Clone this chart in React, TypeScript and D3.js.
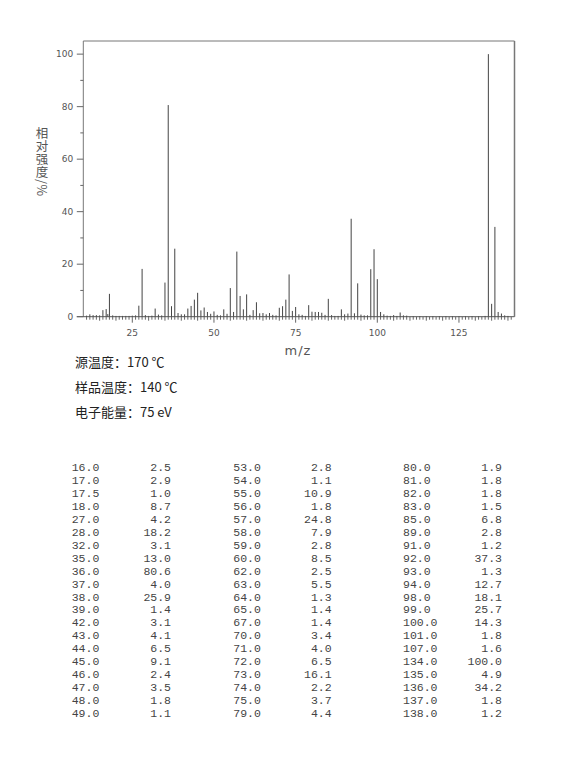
import React from "react";
import * as d3 from "d3";

// spectrum peaks (m/z, relative intensity %)
const peakMz: number[] = [
  11, 12, 13, 14, 15, 16, 17, 17.5, 18, 19, 20, 21, 22, 23, 24, 25, 26, 27, 28, 29, 30,
  31, 32, 33, 34, 35, 36, 37, 38, 39, 40, 41, 42, 43, 44, 45, 46, 47, 48, 49, 50,
  51, 52, 53, 54, 55, 56, 57, 58, 59, 60, 61, 62, 63, 64, 65, 66, 67, 68, 69, 70,
  71, 72, 73, 74, 75, 76, 77, 78, 79, 80, 81, 82, 83, 84, 85, 86, 87, 88, 89, 90,
  91, 92, 93, 94, 95, 96, 97, 98, 99, 100, 101, 102, 103, 104, 105, 106, 107, 108, 109,
  111, 113, 115, 117, 119, 121, 123, 125, 127, 129, 131, 133,
  134, 135, 136, 137, 138, 139, 140,
];
const peakInt: number[] = [
  0.4, 0.9, 0.6, 0.6, 0.5, 2.5, 2.9, 1.0, 8.7, 0.5, 0.3, 0.3, 0.3, 0.3, 0.3, 0.4, 0.5, 4.2, 18.2, 0.6, 0.3,
  0.4, 3.1, 0.8, 0.5, 13.0, 80.6, 4.0, 25.9, 1.4, 0.9, 0.9, 3.1, 4.1, 6.5, 9.1, 2.4, 3.5, 1.8, 1.1, 2.0,
  0.7, 0.5, 2.8, 1.1, 10.9, 1.8, 24.8, 7.9, 2.8, 8.5, 0.7, 2.5, 5.5, 1.3, 1.4, 0.9, 1.4, 0.7, 0.5, 3.4,
  4.0, 6.5, 16.1, 2.2, 3.7, 0.9, 0.7, 0.3, 4.4, 1.9, 1.8, 1.8, 1.5, 0.7, 6.8, 0.6, 0.3, 0.3, 2.8, 0.9,
  1.2, 37.3, 1.3, 12.7, 0.8, 0.5, 0.5, 18.1, 25.7, 14.3, 1.8, 0.9, 0.4, 0.3, 0.6, 0.3, 1.6, 0.5, 0.4,
  0.2, 0.2, 0.2, 0.2, 0.2, 0.2, 0.2, 0.2, 0.2, 0.2, 0.2, 0.3,
  100.0, 4.9, 34.2, 1.8, 1.2, 0.5, 0.3,
];

const xTickLabels: number[] = [25, 50, 75, 100, 125];
const yTickLabels: number[] = [0, 20, 40, 60, 80, 100];
const yMinorTicks: number[] = [10, 30, 50, 70, 90];

const infoLines: string[] = ["源温度：170 ℃", "样品温度：140 ℃", "电子能量：75 eV"];
const yTitle = "相对强度/%";

// table columns
const tableMz1: string[] = ["16.0","17.0","17.5","18.0","27.0","28.0","32.0","35.0","36.0","37.0","38.0","39.0","42.0","43.0","44.0","45.0","46.0","47.0","48.0","49.0"];
const tableInt1: string[] = ["2.5","2.9","1.0","8.7","4.2","18.2","3.1","13.0","80.6","4.0","25.9","1.4","3.1","4.1","6.5","9.1","2.4","3.5","1.8","1.1"];
const tableMz2: string[] = ["53.0","54.0","55.0","56.0","57.0","58.0","59.0","60.0","62.0","63.0","64.0","65.0","67.0","70.0","71.0","72.0","73.0","74.0","75.0","79.0"];
const tableInt2: string[] = ["2.8","1.1","10.9","1.8","24.8","7.9","2.8","8.5","2.5","5.5","1.3","1.4","1.4","3.4","4.0","6.5","16.1","2.2","3.7","4.4"];
const tableMz3: string[] = ["80.0","81.0","82.0","83.0","85.0","89.0","91.0","92.0","93.0","94.0","98.0","99.0","100.0","101.0","107.0","134.0","135.0","136.0","137.0","138.0"];
const tableInt3: string[] = ["1.9","1.8","1.8","1.5","6.8","2.8","1.2","37.3","1.3","12.7","18.1","25.7","14.3","1.8","1.6","100.0","4.9","34.2","1.8","1.2"];

export default function App() {
  const W = 570, H = 773;
  const left = 83.3, right = 514.5, top = 41, bottom = 316.7;
  const x = d3.scaleLinear().domain([10, 142]).range([left, right]);
  const y = d3.scaleLinear().domain([0, 105]).range([bottom, top]);
  const minorX = d3.range(11, 142, 1);
  const axisColor = "#777";
  const textColor = "#555";
  const peaks = peakMz.map((m, i) => ({ m, v: peakInt[i] }));

  const rowY = (i: number) => 471 + i * 12.95;
  const tableFont = "'Liberation Mono', 'Courier New', monospace";
  const cols = [
    { mz: tableMz1, it: tableInt1, xl: 71.7, xr: 171 },
    { mz: tableMz2, it: tableInt2, xl: 233.3, xr: 331.7 },
    { mz: tableMz3, it: tableInt3, xl: 403, xr: 502 },
  ];

  return (
    <div style={{ position: "absolute", left: 0, top: 0 }}>
      <svg width={W} height={H} style={{ display: "block", background: "#fff" }}>
        {/* frame */}
        <line x1={left} y1={top} x2={right} y2={top} stroke={axisColor} strokeWidth={1} />
        <line x1={left} y1={top} x2={left} y2={bottom} stroke={axisColor} strokeWidth={1} />
        <line x1={right} y1={top} x2={right} y2={bottom} stroke={axisColor} strokeWidth={1.5} />
        <line x1={left - 6.5} y1={bottom} x2={right} y2={bottom} stroke="#555" strokeWidth={1} />

        {/* x ticks */}
        {minorX.map((v) => {
          const len = v % 25 === 0 ? 6 : v % 5 === 0 ? 4 : 3;
          return (
            <line key={"xt" + v} x1={x(v)} x2={x(v)} y1={bottom} y2={bottom + len} stroke="#666" strokeWidth={1} />
          );
        })}
        {xTickLabels.map((v) => (
          <text key={"xl" + v} x={x(v)} y={335.7} textAnchor="middle" fontFamily="'DejaVu Sans', Verdana, sans-serif" fontSize={9} fill={textColor}>
            {v}
          </text>
        ))}

        {/* y ticks */}
        {yTickLabels.map((v) => (
          <g key={"yt" + v}>
            <line x1={left - 6.5} x2={left} y1={y(v)} y2={y(v)} stroke="#666" strokeWidth={1} />
            <text x={73.3} y={y(v) + 3.3} textAnchor="end" fontFamily="'DejaVu Sans', Verdana, sans-serif" fontSize={9} fill={textColor}>
              {v}
            </text>
          </g>
        ))}
        {yMinorTicks.map((v) => (
          <line key={"ym" + v} x1={left - 3} x2={left} y1={y(v)} y2={y(v)} stroke="#666" strokeWidth={1} />
        ))}

        {/* peaks */}
        {peaks.map((p, i) => (
          <line key={"p" + i} x1={x(p.m)} x2={x(p.m)} y1={bottom} y2={y(p.v)} stroke="#444" strokeWidth={1} />
        ))}

        {/* y title (vertical) */}
        <text
          x={42}
          y={127}
          style={{ writingMode: "vertical-rl" as any }}
          fontFamily="'Noto Sans CJK SC', sans-serif"
          fontSize={12.5}
          letterSpacing={0.5}
          fill={textColor}
        >
          {yTitle}
        </text>

        {/* x title */}
        <text x={298} y={355} textAnchor="middle" fontFamily="'DejaVu Sans', Verdana, sans-serif" fontSize={13} letterSpacing={1} fill={textColor}>
          m/z
        </text>

        {/* info */}
        {infoLines.map((s, i) => (
          <text key={"info" + i} x={75} y={367 + i * 25} fontFamily="'Noto Sans CJK SC', sans-serif" fontSize={13} fill="#222">
            {s}
          </text>
        ))}

        {/* table */}
        {cols.map((c, ci) => (
          <g key={"col" + ci}>
            {c.mz.map((s, i) => (
              <text key={"m" + i} x={c.xl} y={rowY(i)} fontFamily={tableFont} fontSize={11.5} fill="#444">
                {s}
              </text>
            ))}
            {c.it.map((s, i) => (
              <text key={"v" + i} x={c.xr} y={rowY(i)} textAnchor="end" fontFamily={tableFont} fontSize={11.5} fill="#444">
                {s}
              </text>
            ))}
          </g>
        ))}
      </svg>
    </div>
  );
}
